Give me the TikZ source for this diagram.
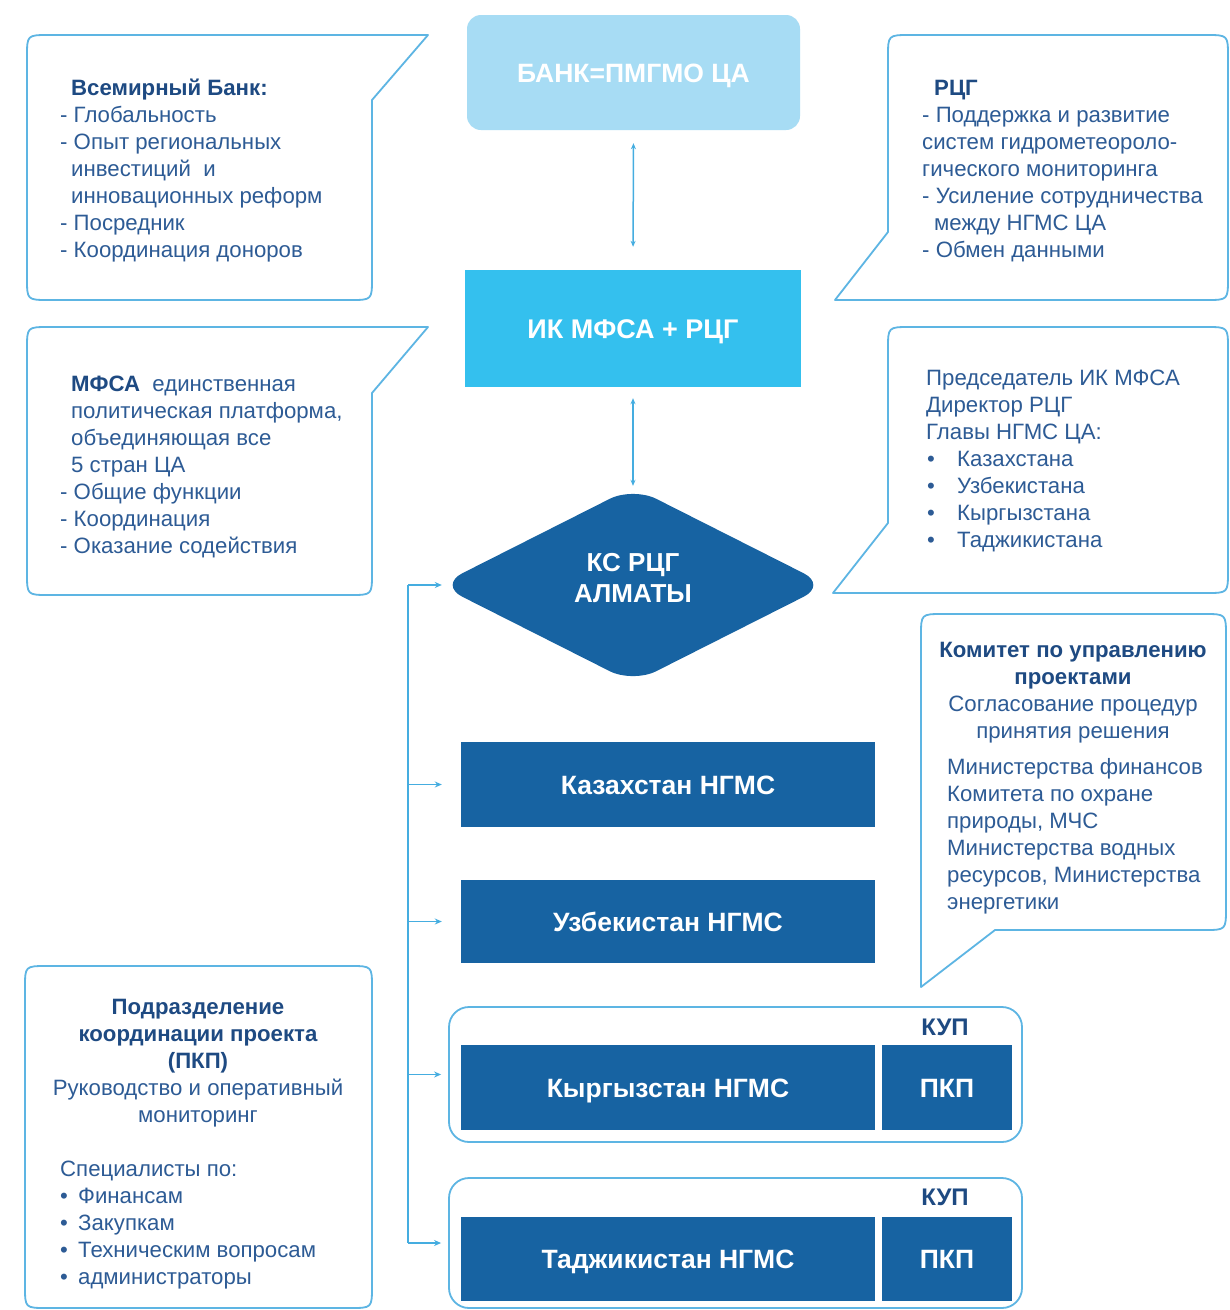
\documentclass[tikz,border=0pt]{standalone}
\usepackage{fontspec}
\setmainfont{Liberation Sans}
\usetikzlibrary{shapes.geometric,arrows.meta,calc}
\definecolor{cline}{HTML}{5DB5E3}
\definecolor{ctext}{HTML}{2D5B95}
\definecolor{chead}{HTML}{1E4A82}
\definecolor{cdark}{HTML}{1763A2}
\definecolor{ccyan}{HTML}{34C0EE}
\definecolor{clight}{HTML}{A7DCF4}
\definecolor{carrow}{HTML}{45ADE0}
\newcommand\hdr[1]{\textcolor{chead}{\bfseries #1}}
\newcommand\ind{\hspace*{11pt}}
\begin{document}
\begin{tikzpicture}[x=1pt,y=-1pt,
  callout/.style={draw=cline, line width=1.8pt, fill=white, line join=round},
  body/.style={text=ctext, inner sep=0pt, font=\fontsize{22.2}{27}\selectfont},
  darkbox/.style={fill=cdark, text=white, font=\bfseries\fontsize{26.5}{30}\selectfont, inner sep=0pt, text height=19pt, text depth=0pt},
  outerbox/.style={draw=cline, line width=1.8pt, rounded corners=20pt, inner sep=0pt},
  kup/.style={text=chead, font=\bfseries\fontsize{24}{28}\selectfont, inner sep=0pt, text height=17.2pt, text depth=0pt},
  conn/.style={draw=carrow, line width=1.5pt},
  arrowend/.style={-{Stealth[length=7pt,width=6pt]}},
  dbl/.style={conn, {Stealth[length=6pt,width=5pt]}-{Stealth[length=6pt,width=5pt]}},
]
\useasboundingbox (0,0) rectangle (1230,1310);
\fill[white] (0,0) rectangle (1230,1310);

% callouts
\draw[callout] (428,35) -- (372,100) -- (372,278) .. controls (372,300) .. (350,300) -- (49,300) .. controls (27,300) .. (27,278) -- (27,57) .. controls (27,35) .. (49,35) -- cycle;
\draw[callout] (835,300) -- (888,232) -- (888,57) .. controls (888,35) .. (910,35) -- (1206,35) .. controls (1228,35) .. (1228,57) -- (1228,278) .. controls (1228,300) .. (1206,300) -- cycle;
\draw[callout] (428,327) -- (372,393) -- (372,573) .. controls (372,595) .. (350,595) -- (49,595) .. controls (27,595) .. (27,573) -- (27,349) .. controls (27,327) .. (49,327) -- cycle;
\draw[callout] (833,593) -- (888,523) -- (888,349) .. controls (888,327) .. (910,327) -- (1206,327) .. controls (1228,327) .. (1228,349) -- (1228,571) .. controls (1228,593) .. (1206,593) -- cycle;
\draw[callout] (921,987) -- (921,636) .. controls (921,614) .. (943,614) -- (1204,614) .. controls (1226,614) .. (1226,636) -- (1226,908) .. controls (1226,930) .. (1204,930) -- (995,930) -- cycle;
\draw[callout] (25,988) .. controls (25,966) .. (47,966) -- (350,966) .. controls (372,966) .. (372,988) -- (372,1286) .. controls (372,1308) .. (350,1308) -- (47,1308) .. controls (25,1308) .. (25,1286) -- cycle;

% callout texts
\node[body, anchor=base west] (tbank) at (60,95) {\begin{tabular}[t]{@{}l@{}}
\ind\hdr{Всемирный Банк:}\\
- Глобальность\\
- Опыт региональных\\
\ind инвестиций\ \ и\\
\ind инновационных реформ\\
- Посредник\\
- Координация доноров\end{tabular}};

\node[body, anchor=base west] (trcg) at (922,95) {\begin{tabular}[t]{@{}l@{}}
\hspace*{12pt}\hdr{РЦГ}\\
- Поддержка и развитие\\
систем гидрометеороло-\\
гического мониторинга\\
- Усиление сотрудничества\\
\hspace*{12pt}между НГМС ЦА\\
- Обмен данными\end{tabular}};

\node[body, anchor=base west] (tmfsa) at (60,391) {\begin{tabular}[t]{@{}l@{}}
\ind\hdr{МФСА}\ \ единственная\\
\ind политическая платформа,\\
\ind объединяющая все\\
\ind 5 стран ЦА\\
- Общие функции\\
- Координация\\
- Оказание содействия\end{tabular}};

\node[body, anchor=base west] (tpred) at (926,385) {\begin{tabular}[t]{@{}l@{}}
Председатель ИК МФСА\\
Директор РЦГ\\
Главы НГМС ЦА:\\
\hspace*{1pt}\makebox[30pt][l]{•}Казахстана\\
\hspace*{1pt}\makebox[30pt][l]{•}Узбекистана\\
\hspace*{1pt}\makebox[30pt][l]{•}Кыргызстана\\
\hspace*{1pt}\makebox[30pt][l]{•}Таджикистана\end{tabular}};

\node[body, anchor=base] (tkom1) at (1073,657) {\begin{tabular}[t]{@{}c@{}}
\hdr{Комитет по управлению}\\
\hdr{проектами}\\
Согласование процедур\\
принятия решения\end{tabular}};
\node[body, anchor=base west] (tkom2) at (947,774) {\begin{tabular}[t]{@{}l@{}}
Министерства финансов\\
Комитета по охране\\
природы, МЧС\\
Министерства водных\\
ресурсов, Министерства\\
энергетики\end{tabular}};

\node[body, anchor=base] (tpkp1) at (198,1014) {\begin{tabular}[t]{@{}c@{}}
\hdr{Подразделение}\\
\hdr{координации проекта}\\
\hdr{(ПКП)}\\
Руководство и оперативный\\
мониторинг\end{tabular}};
\node[body, anchor=base west] (tpkp2) at (60,1176) {\begin{tabular}[t]{@{}l@{}}
Специалисты по:\\
\makebox[18pt][l]{•}Финансам\\
\makebox[18pt][l]{•}Закупкам\\
\makebox[18pt][l]{•}Техническим вопросам\\
\makebox[18pt][l]{•}администраторы\end{tabular}};

% central column
\node[fill=clight, rounded corners=14pt, minimum width=333pt, minimum height=115pt, inner sep=0pt, text=white, font=\bfseries\fontsize{26.5}{30}\selectfont, text height=19pt, text depth=0pt] (bank) at (633.5,72.5) {БАНК=ПМГМО ЦА};
\node[fill=ccyan, minimum width=336pt, minimum height=117pt, inner sep=0pt, text=white, font=\bfseries\fontsize{27}{30}\selectfont, text height=19.3pt, text depth=0pt] (ik) at (633,328.5) {ИК МФСА + РЦГ};
\node[diamond, aspect=2, fill=cdark, rounded corners=26pt, minimum width=388pt, minimum height=196pt, inner sep=0pt] (ks) at (633,585) {};
\node[text=white, align=center, inner sep=0pt, font=\bfseries\fontsize{26}{31}\selectfont] (kst) at (633,578.5) {КС РЦГ\\АЛМАТЫ};

\node[darkbox, minimum width=414pt, minimum height=85pt] (kz) at (668,784.5) {Казахстан НГМС};
\node[darkbox, minimum width=414pt, minimum height=83pt] (uz) at (668,921.5) {Узбекистан НГМС};

\node[outerbox, minimum width=573pt, minimum height=135pt] (kgo) at (735.5,1074.5) {};
\node[darkbox, minimum width=414pt, minimum height=85pt] (kg) at (668,1087.5) {Кыргызстан НГМС};
\node[darkbox, minimum width=130pt, minimum height=85pt] (kgp) at (947,1087.5) {ПКП};
\node[kup] (kgk) at (945,1027) {КУП};

\node[outerbox, minimum width=573pt, minimum height=130pt] (tjo) at (735.5,1243) {};
\node[darkbox, minimum width=414pt, minimum height=84pt] (tj) at (668,1259) {Таджикистан НГМС};
\node[darkbox, minimum width=130pt, minimum height=84pt] (tjp) at (947,1259) {ПКП};
\node[kup] (tjk) at (945,1197) {КУП};

% connectors
\draw[dbl, shorten <=13pt, shorten >=23pt] (bank.south) -- (ik.north);
\draw[dbl, shorten <=11pt, shorten >=1pt] (ik.south) -- (ks.north);

\coordinate (bt) at (408,0);
\draw[conn] (bt |- ks.west) -- (bt |- tjo.west);
\draw[conn, arrowend] (bt |- ks.west) -- ([xshift=3pt]ks.west);
\draw[conn, arrowend] (bt |- kz.west) -- ([xshift=-19pt]kz.west);
\draw[conn, arrowend] (bt |- uz.west) -- ([xshift=-19pt]uz.west);
\draw[conn, arrowend] (bt |- kgo.west) -- ([xshift=-7pt]kgo.west);
\draw[conn, arrowend] (bt |- tjo.west) -- ([xshift=-7pt]tjo.west);
\end{tikzpicture}
\end{document}
